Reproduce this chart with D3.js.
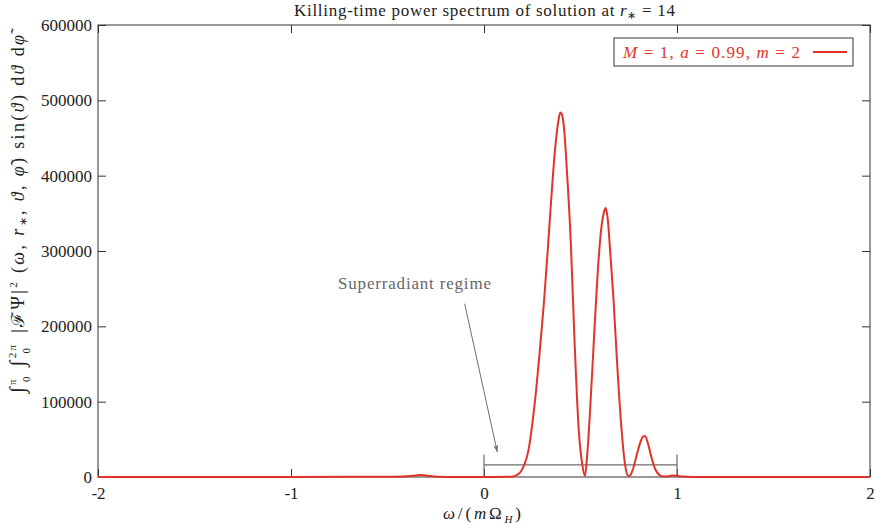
<!DOCTYPE html>
<html>
<head>
<meta charset="utf-8">
<script src="https://cdn.jsdelivr.net/npm/d3@7"></script>
<style>
  body { margin: 0; background: #fff; }
</style>
</head>
<body>
<div id="chart"></div>
<script>
// frequency omega/(m Omega_H) and power values
var omega = [-2.0, -1.5, -1.0, -0.7, -0.6, -0.5, -0.42, -0.38, -0.35, -0.33, -0.31, -0.28, -0.24, -0.15, -0.05,
    0.05, 0.12, 0.15, 0.17, 0.19, 0.21, 0.23, 0.25, 0.27, 0.29, 0.31, 0.33, 0.35, 0.37, 0.385, 0.395, 0.405,
    0.415, 0.43, 0.45, 0.47, 0.49, 0.51, 0.523, 0.535, 0.55, 0.57, 0.59, 0.61, 0.622, 0.63, 0.64, 0.655, 0.67,
    0.69, 0.71, 0.73, 0.745, 0.755, 0.77, 0.79, 0.81, 0.825, 0.835, 0.85, 0.87, 0.89, 0.91, 0.93, 0.95, 0.975,
    1.0, 1.03, 1.08, 1.2, 1.5, 2.0];
var power = [0, 0, 0, 200, 400, 300, 600, 1200, 2000, 2600, 2200, 1200, 400, 100, 0,
    0, 200, 800, 2500, 7000, 17000, 35000, 70000, 115000, 170000, 230000, 300000, 375000, 440000, 472000, 484000, 480000,
    462000, 405000, 310000, 175000, 66000, 15000, 1500, 30000, 90000, 185000, 275000, 335000, 352000, 357000, 345000, 295000, 240000,
    150000, 72000, 18000, 2000, 1500, 9000, 28000, 46000, 54000, 54500, 44000, 24000, 9000, 2500, 600, 800, 2000,
    1600, 500, 100, 0, 0, 0];

var xTicks = [-2, -1, 0, 1, 2];
var yTicks = [0, 100000, 200000, 300000, 400000, 500000, 600000];

// superradiant bracket (omega range) and arrow from label
var bracketRange = [0, 1];
var bracketLevel = 16000;
var bracketTickTop = 30000;
var arrowFrom = [-0.1, 230000];
var arrowTo = [0.069, 33000];

var w = 880, h = 528;
var mLeft = 98, mRight = 870, mTop = 25, mBottom = 477;
var red = "#e2332a";
var gray = "#6e6e6e";
var serif = "'Liberation Serif', 'Times New Roman', Times, serif";

var svg = d3.select("#chart").append("svg")
    .attr("width", w)
    .attr("height", h)
    .attr("font-family", serif);

var x = d3.scaleLinear().domain([-2, 2]).range([mLeft, mRight]);
var y = d3.scaleLinear().domain([0, 600000]).range([mBottom, mTop]);

function styleAxis(g) {
    g.attr("font-family", serif);
    g.select(".domain").remove();
    g.selectAll(".tick line").attr("stroke", "#333");
    g.selectAll(".tick text").attr("fill", "#222").attr("font-size", 17);
}

svg.append("g")
    .attr("transform", "translate(0," + mBottom + ")")
    .call(d3.axisBottom(x).tickValues(xTicks).tickSizeInner(-8).tickSizeOuter(0).tickPadding(10)
        .tickFormat(function(d) { return String(d); }))
    .call(styleAxis);

svg.append("g")
    .attr("transform", "translate(0," + mTop + ")")
    .call(d3.axisTop(x).tickValues(xTicks).tickSizeInner(-8).tickSizeOuter(0).tickFormat(""))
    .call(styleAxis);

svg.append("g")
    .attr("transform", "translate(" + mLeft + ",0)")
    .call(d3.axisLeft(y).tickValues(yTicks).tickSizeInner(-8).tickSizeOuter(0).tickPadding(6)
        .tickFormat(function(d) { return String(d); }))
    .call(styleAxis);

svg.append("g")
    .attr("transform", "translate(" + mRight + ",0)")
    .call(d3.axisRight(y).tickValues(yTicks).tickSizeInner(-8).tickSizeOuter(0).tickFormat(""))
    .call(styleAxis);

// plot border
svg.append("rect")
    .attr("x", mLeft).attr("y", mTop)
    .attr("width", mRight - mLeft).attr("height", mBottom - mTop)
    .attr("fill", "none")
    .attr("stroke", "#333")
    .attr("stroke-width", 1);

// superradiant bracket
svg.append("path")
    .attr("d", "M" + x(bracketRange[0]) + "," + y(0) + "V" + y(bracketTickTop)
        + "M" + x(bracketRange[0]) + "," + y(bracketLevel) + "H" + x(bracketRange[1])
        + "M" + x(bracketRange[1]) + "," + y(0) + "V" + y(bracketTickTop))
    .attr("fill", "none")
    .attr("stroke", gray)
    .attr("stroke-width", 1.2);

// arrow
svg.append("defs").append("marker")
    .attr("id", "arrowhead")
    .attr("viewBox", "0 0 10 10")
    .attr("refX", 10).attr("refY", 5)
    .attr("markerWidth", 9).attr("markerHeight", 7)
    .attr("markerUnits", "userSpaceOnUse")
    .attr("orient", "auto")
    .append("path")
    .attr("d", "M0,1.5L10,5L0,8.5L2,5Z")
    .attr("fill", gray);

svg.append("line")
    .attr("x1", x(arrowFrom[0])).attr("y1", y(arrowFrom[1]))
    .attr("x2", x(arrowTo[0])).attr("y2", y(arrowTo[1]))
    .attr("stroke", gray)
    .attr("stroke-width", 1)
    .attr("marker-end", "url(#arrowhead)");

svg.append("text")
    .attr("x", 338).attr("y", 289)
    .attr("fill", "#666")
    .attr("textLength", 153)
    .attr("lengthAdjust", "spacing")
    .attr("font-size", 17)
    .text("Superradiant regime");

// spectrum curve
var pts = omega.map(function(d, i) { return [d, power[i]]; });
var line = d3.line()
    .x(function(d) { return x(d[0]); })
    .y(function(d) { return y(d[1]); })
    .curve(d3.curveMonotoneX);

svg.append("path")
    .datum(pts)
    .attr("d", line)
    .attr("fill", "none")
    .attr("stroke", red)
    .attr("stroke-width", 2)
    .attr("stroke-linejoin", "round");

// title
var title = svg.append("text")
    .attr("x", 294).attr("y", 16)
    .attr("fill", "#222")
    .attr("textLength", 381)
    .attr("lengthAdjust", "spacing")
    .attr("font-size", 17);
title.append("tspan").text("Killing-time power spectrum of solution at ");
title.append("tspan").attr("font-style", "italic").text("r");
title.append("tspan").attr("dy", 3).attr("font-size", 11).text("∗");
title.append("tspan").attr("dy", -3).text(" = 14");

// legend
svg.append("rect")
    .attr("x", 614).attr("y", 38)
    .attr("width", 239).attr("height", 28)
    .attr("fill", "#fff")
    .attr("stroke", "#333");

var leg = svg.append("text")
    .attr("x", 623).attr("y", 58)
    .attr("fill", red)
    .attr("textLength", 177)
    .attr("lengthAdjust", "spacing")
    .attr("font-size", 17);
leg.append("tspan").attr("font-style", "italic").text("M");
leg.append("tspan").text(" = 1, ");
leg.append("tspan").attr("font-style", "italic").text("a");
leg.append("tspan").text(" = 0.99, ");
leg.append("tspan").attr("font-style", "italic").text("m");
leg.append("tspan").text(" = 2");

svg.append("line")
    .attr("x1", 813).attr("x2", 847)
    .attr("y1", 52).attr("y2", 52)
    .attr("stroke", red)
    .attr("stroke-width", 2);

// x axis label
var xl = svg.append("text")
    .attr("x", 443).attr("y", 519)
    .attr("fill", "#222")
    .attr("textLength", 78)
    .attr("lengthAdjust", "spacing")
    .attr("font-size", 17);
xl.append("tspan").attr("font-style", "italic").text("ω");
xl.append("tspan").text("/(");
xl.append("tspan").attr("font-style", "italic").text("m");
xl.append("tspan").text("Ω");
xl.append("tspan").attr("dy", 4).attr("font-size", 11).attr("font-style", "italic").text("H");
xl.append("tspan").attr("dy", -4).text(")");

// y axis label (rotated, runs from bottom y=393 up to y=35)
var yl = svg.append("text")
    .attr("transform", "translate(24,393) rotate(-90)")
    .attr("fill", "#222")
    .attr("textLength", 358)
    .attr("lengthAdjust", "spacing")
    .attr("font-size", 18);
yl.append("tspan").attr("font-size", 21).text("∫");
yl.append("tspan").attr("dy", -8).attr("font-size", 11).text("π");
yl.append("tspan").attr("dy", 14).attr("dx", -5).attr("font-size", 11).text("0");
yl.append("tspan").attr("dy", -6).attr("font-size", 21).text(" ∫");
yl.append("tspan").attr("dy", -8).attr("font-size", 11).text("2π");
yl.append("tspan").attr("dy", 14).attr("dx", -11).attr("font-size", 11).text("0");
yl.append("tspan").attr("dy", -6).attr("dx", 6).text(" |ℱΨ|");
yl.append("tspan").attr("dy", -7).attr("font-size", 11).text("2");
yl.append("tspan").attr("dy", 7).text(" (");
yl.append("tspan").attr("font-style", "italic").text("ω");
yl.append("tspan").text(", ");
yl.append("tspan").attr("font-style", "italic").text("r");
yl.append("tspan").attr("dy", 3).attr("font-size", 11).text("∗");
yl.append("tspan").attr("dy", -3).text(", ");
yl.append("tspan").attr("font-style", "italic").text("ϑ");
yl.append("tspan").text(", ");
yl.append("tspan").attr("font-style", "italic").text("φ̃");
yl.append("tspan").text(") sin(");
yl.append("tspan").attr("font-style", "italic").text("ϑ");
yl.append("tspan").text(") d");
yl.append("tspan").attr("font-style", "italic").text("ϑ");
yl.append("tspan").text(" d");
yl.append("tspan").attr("font-style", "italic").text("φ̃");
</script>
</body>
</html>
